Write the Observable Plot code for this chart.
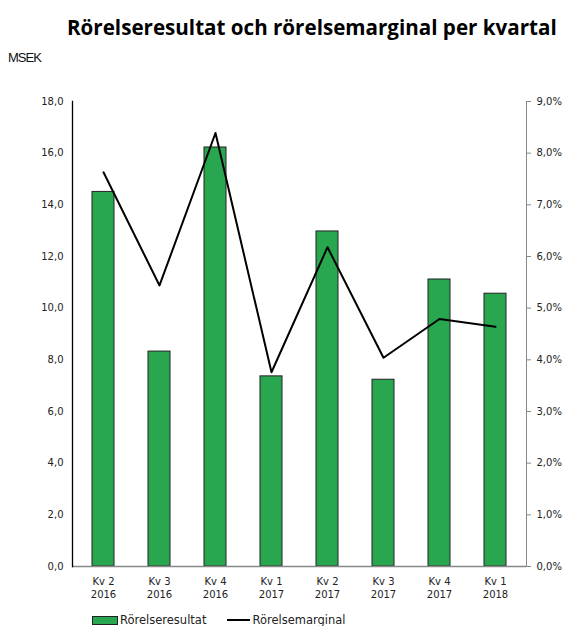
<!DOCTYPE html>
<html>
<head>
<meta charset="utf-8">
<script src="https://cdn.jsdelivr.net/npm/d3@7"></script>
<script src="https://cdn.jsdelivr.net/npm/@observablehq/plot@0.6"></script>
<style>
  body { margin: 0; background: #fff; }
  #wrap { position: relative; width: 568px; height: 626px; overflow: hidden; font-family: "DejaVu Sans", Verdana, sans-serif; }
  #title { position: absolute; left: 67px; top: 13px; font-family: "Open Sans", "Noto Sans", sans-serif; font-weight: 700; font-size: 20.6px; color: #000; white-space: nowrap; }
  #unit { position: absolute; left: 8px; top: 50px; font-family: "Liberation Sans Narrow", "Liberation Sans", sans-serif; font-size: 13px; letter-spacing: -1px; color: #111; }
  #chart { position: absolute; left: 0; top: 80px; }
  #legend { position: absolute; left: 92px; top: 613px; font-size: 11.5px; color: #222; display: flex; align-items: center; white-space: nowrap; }
  .sw-bar { display: inline-block; width: 24px; height: 7px; background: #29a650; border: 1px solid #222; margin-right: 2px; }
  .sw-line { display: inline-block; width: 23px; height: 2px; background: #000; margin-left: 21px; margin-right: 2px; }
</style>
</head>
<body>
<div id="wrap">
  <div id="title">Rörelseresultat och rörelsemarginal per kvartal</div>
  <div id="unit">MSEK</div>
  <div id="chart"></div>
  <div id="legend"><span class="sw-bar"></span><span>Rörelseresultat</span><span class="sw-line"></span><span>Rörelsemarginal</span></div>
</div>
<script>
const categories = ["Kv 2\n2016", "Kv 3\n2016", "Kv 4\n2016", "Kv 1\n2017", "Kv 2\n2017", "Kv 3\n2017", "Kv 4\n2017", "Kv 1\n2018"];
const rorelseresultat = [14.5, 8.32, 16.22, 7.36, 12.97, 7.23, 11.11, 10.56];
const rorelsemarginal = [7.63, 5.44, 8.39, 3.76, 6.18, 4.04, 4.79, 4.64];
const leftTicks = [0, 2, 4, 6, 8, 10, 12, 14, 16, 18];
const rightTicks = [0, 1, 2, 3, 4, 5, 6, 7, 8, 9];

const pctToLeft = 2; // 9% maps onto 18 MSEK
const data = categories.map((c, i) => ({cat: c, value: rorelseresultat[i], margin: rorelsemarginal[i]}));
const fmt1 = v => v.toFixed(1).replace(".", ",");

const chart = Plot.plot({
  width: 568,
  height: 530,
  marginTop: 21,
  marginBottom: 44,
  marginLeft: 72,
  marginRight: 42,
  style: {fontFamily: "'DejaVu Sans', Verdana, sans-serif", fontSize: "10px", color: "#222", background: "#fff"},
  x: {domain: categories, paddingInner: 0.6, paddingOuter: 0.3, label: null},
  y: {domain: [0, 18], label: null},
  marks: [
    Plot.axisX({tickSize: 0, tickPadding: 9, lineHeight: 1.3, label: null, fontSize: 10}),
    Plot.axisY(leftTicks, {anchor: "left", tickSize: 0, tickPadding: 9, tickFormat: fmt1, label: null}),
    Plot.axisY(rightTicks.map(p => p * pctToLeft), {anchor: "right", tickSize: 4, tickPadding: 6, stroke: "#888", tickFormat: d => fmt1(d / pctToLeft) + "%", label: null}),
    Plot.barY(data, {x: "cat", y: "value", fill: "#29a650", stroke: "#222", strokeWidth: 1}),
    Plot.ruleY([0], {stroke: "#888", strokeWidth: 1.3}),
    Plot.frame({anchor: "right", stroke: "#888"}),
    Plot.frame({anchor: "left", stroke: "#000", strokeWidth: 1.3}),
    Plot.line(data, {x: "cat", y: d => d.margin * pctToLeft, stroke: "#000", strokeWidth: 2})
  ]
});
document.getElementById("chart").appendChild(chart);
</script>
</body>
</html>
